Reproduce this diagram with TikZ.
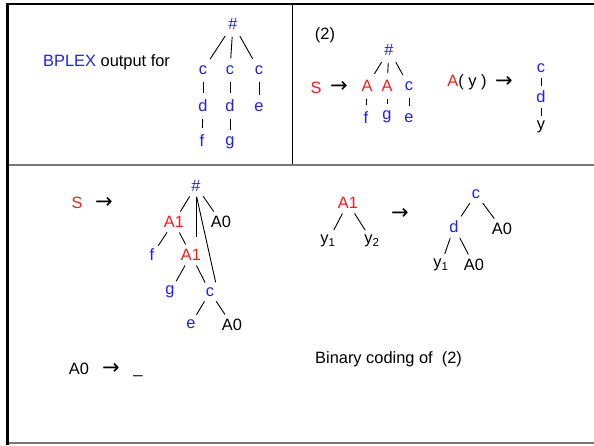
\documentclass[tikz,border=0pt]{standalone}
\usepackage{fontspec}
\setmainfont{Liberation Sans}
\newfontfamily\arrowfont{DejaVu Sans}
\usetikzlibrary{positioning}

\definecolor{blueT}{RGB}{30,30,255}
\definecolor{redT}{RGB}{255,25,25}
\definecolor{rule}{RGB}{120,120,120}

\tikzset{
  lbl/.style={inner sep=2pt,font=\fontsize{16.4}{19}\selectfont},
  bl/.style={lbl,text=blueT},
  rd/.style={lbl,text=redT},
  bk/.style={lbl,text=black},
  arrw/.style={inner sep=0pt,font=\arrowfont\fontsize{21}{24}\selectfont},
  edge/.style={black,line width=0.9pt,shorten >=3pt,shorten <=3pt},
  tick/.style={black,line width=0.9pt,shorten >=5pt,shorten <=5pt},
}
\newcommand{\arr}{→}

\begin{document}
\begin{tikzpicture}[x=1pt,y=-1pt]
  \useasboundingbox (0,0) rectangle (594,445);
  \clip (0,0) rectangle (594,445);

  % frame and panels
  \draw[line width=3pt] (7.5,3) -- (7.5,445);
  \draw[line width=2.2pt] (6,4) -- (600,4);
  \draw[rule,line width=1.6pt] (9,165) -- (600,165);
  \draw[rule,line width=1.4pt] (9,443) -- (600,443);
  \draw[line width=1pt] (292,5) -- (292,164);

  % panel 1: input tree
  \node[lbl,anchor=west] (title) at (41,62) {\textcolor{blueT}{BPLEX} output for};
  \node[bl] (r) at (233,24) {\#};
  \node[bl] (c1) at (203,70) {c};
  \node[bl] (c2) at (230,70) {c};
  \node[bl] (c3) at (259,70) {c};
  \node[bl] (d1) at (203,106) {d};
  \node[bl] (d2) at (230,106) {d};
  \node[bl] (e1) at (259,107) {e};
  \node[bl] (f1) at (202,141) {f};
  \node[bl] (g1) at (230,143) {g};
  \draw[tick] (r) -- (c1);
  \draw[tick] (r) -- (c2);
  \draw[tick] (r) -- (c3);
  \draw[tick] (c1) -- (d1);
  \draw[tick] (c2) -- (d2);
  \draw[tick] (c3) -- (e1);
  \draw[tick] (d1) -- (f1);
  \draw[tick] (d2) -- (g1);

  % panel 2: grammar (2)
  \node[bk] (two) at (325,35) {(2)};
  \node[rd] (S1) at (316,88) {S};
  \node[arrw] (arA) at (339,87) {\arr};
  \node[bl] (rr) at (389,50) {\#};
  \node[rd] (A1) at (367,86) {A};
  \node[rd] (A2) at (387,86) {A};
  \node[bl] (cc) at (409,86) {c};
  \node[bl] (ff) at (366,118) {f};
  \node[bl] (gg) at (387,117) {g};
  \node[bl] (ee) at (409,118) {e};
  \draw[tick] (rr) -- (A1);
  \draw[tick] (rr) -- (A2);
  \draw[tick] (rr) -- (cc);
  \draw[tick] (A1) -- (ff);
  \draw[tick] (A2) -- (gg);
  \draw[tick] (cc) -- (ee);
  \node[bk] (Ay) at (467,82) {\textcolor{redT}{A}( y )};
  \node[arrw] (arB) at (504,82) {\arr};
  \node[bl] (cy) at (541,68) {c};
  \node[bl] (dy) at (541,97) {d};
  \node[bk] (yy) at (541,127) {y};
  \draw[tick,shorten >=3pt,shorten <=3pt] (cy) -- (dy);
  \draw[tick,shorten >=3pt,shorten <=3pt] (dy) -- (yy);

  % panel 3: binary rules
  \node[rd] (S2) at (77,203) {S};
  \node[arrw] (arC) at (104,203) {\arr};
  \node[bl] (h) at (196,186) {\#};
  \node[rd] (p1) at (174,222) {A1};
  \node[bk] (z1) at (221,222) {A0};
  \node[bl] (f2) at (152,255) {f};
  \node[rd] (p2) at (191,255) {A1};
  \node[bl] (g2) at (170,292) {g};
  \node[bl] (c4) at (210,292) {c};
  \node[bl] (e2) at (191,324) {e};
  \node[bk] (z2) at (232,325) {A0};
  \coordinate (hv) at (196,237);
  \draw[edge] (h) -- (p1);
  \draw[edge] (h) -- (z1);
  \draw[edge,shorten >=0pt] (h.south) -- (hv);
  \draw[edge] (h.south) -- (c4.north east);
  \draw[edge] (p1) -- (f2);
  \draw[edge] (p1) -- (p2);
  \draw[edge] (p2) -- (g2);
  \draw[edge] (p2) -- (c4);
  \draw[edge] (c4) -- (e2);
  \draw[edge] (c4) -- (z2);

  \node[rd] (q) at (348,203) {A1};
  \node[bk] (qy1) at (328,241) {y\textsubscript{1}};
  \node[bk] (qy2) at (372,241) {y\textsubscript{2}};
  \draw[edge] (q) -- (qy1);
  \draw[edge] (q) -- (qy2);
  \node[arrw] (arD) at (400,214) {\arr};
  \node[bl] (u) at (476,194) {c};
  \node[bl] (v) at (454,227) {d};
  \node[bk] (w1) at (502,229) {A0};
  \node[bk] (w2) at (441,265) {y\textsubscript{1}};
  \node[bk] (w3) at (474,265) {A0};
  \draw[edge] (u) -- (v);
  \draw[edge] (u) -- (w1);
  \draw[edge] (v) -- (w2);
  \draw[edge] (v) -- (w3);

  \node[bk] (z0) at (79,369) {A0};
  \node[arrw] (arE) at (111,369) {\arr};
  \node[bk] (eps) at (138,375) {\_};
  \node[bk,anchor=west] (bin) at (313,359) {Binary coding of\ \ (2)};
\end{tikzpicture}
\end{document}
